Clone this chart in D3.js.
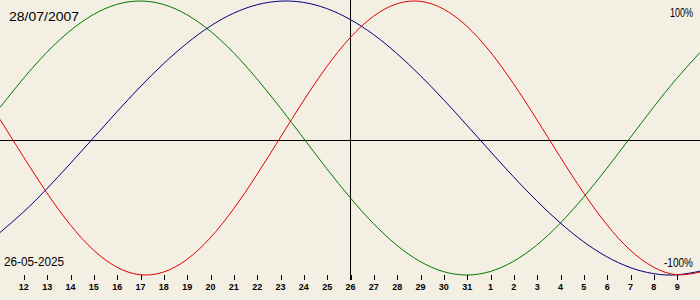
<!DOCTYPE html>
<html><head><meta charset="utf-8">
<script src="https://cdn.jsdelivr.net/npm/d3@7"></script>
<style>html,body{margin:0;padding:0;background:#f3efe3;}svg{display:block;}</style>
</head><body>
<div id="chart"></div>
<script>
// day offsets relative to 26-05-2025 (centre line)
const dayOffsets = d3.range(-15, 16);
// tick labels for offsets -14..14
const tickLabels = ["12","13","14","15","16","17","18","19","20","21","22","23","24","25","26","27","28","29","30","31","1","2","3","4","5","6","7","8","9"];
const tickOffsets = d3.range(-14, 15);
// series values in % (read per day from offset -15 to +15)
const physical = [13.6,-13.6,-39.8,-63.1,-81.7,-94.2,-99.8,-97.9,-88.8,-73.1,-52.0,-27.0,0,27.0,52.0,73.1,88.8,97.9,99.8,94.2,81.7,63.1,39.8,13.6,-13.6,-39.8,-63.1,-81.7,-94.2,-99.8,-97.9];
const emotional = [22.3,43.4,62.4,78.2,90.1,97.5,100,97.5,90.1,78.2,62.4,43.4,22.3,0,-22.3,-43.4,-62.4,-78.2,-90.1,-97.5,-100,-97.5,-90.1,-78.2,-62.4,-43.4,-22.3,0,22.3,43.4,62.4];
const intellectual = [-69.0,-54.1,-37.2,-18.9,0,18.9,37.2,54.1,69.0,81.5,91.0,97.2,99.9,99.0,94.5,86.6,75.6,61.8,45.8,28.2,9.5,-9.5,-28.2,-45.8,-61.8,-75.6,-86.6,-94.5,-99.0,-99.9,-97.2];
const birthLabel = "28/07/2007";
const todayLabel = "26-05-2025";
const topLabel = "100%";
const bottomLabel = "-100%";

const W = 700, H = 300;
const svg = d3.select("#chart").append("svg").attr("width", W).attr("height", H);
svg.append("rect").attr("width", W).attr("height", H).attr("fill", "#f3efe3");

const x = d3.scaleLinear().domain([-15, 15]).range([0, 700]);
const y = d3.scaleLinear().domain([-100, 100]).range([275, 1]);

// axes lines
svg.append("line").attr("x1", 0).attr("x2", W).attr("y1", 140.5).attr("y2", 140.5)
  .attr("stroke", "#000").attr("shape-rendering", "crispEdges");
svg.append("line").attr("x1", x(0) + 0.5).attr("x2", x(0) + 0.5).attr("y1", 0).attr("y2", 280)
  .attr("stroke", "#000").attr("shape-rendering", "crispEdges");

// curves
const line = d3.line().x((d, i) => x(dayOffsets[i])).y(d => y(d)).curve(d3.curveNatural);
[[emotional, "#007a00"], [intellectual, "#000080"], [physical, "#e00000"]].forEach(([vals, col]) => {
  svg.append("path").datum(vals).attr("d", line).attr("fill", "none").attr("stroke", col).attr("stroke-width", 1);
});

// bottom day axis
const axis = d3.axisBottom(x).tickValues(tickOffsets)
  .tickFormat((d, i) => tickLabels[i]).tickSize(5).tickPadding(4);
const g = svg.append("g").attr("transform", "translate(0.5,275)").call(axis);
g.select(".domain").remove();
g.selectAll(".tick line").attr("stroke", "#000").attr("shape-rendering", "crispEdges");
g.selectAll(".tick text").attr("font-family", "Liberation Sans, Arial, sans-serif")
  .attr("font-size", 9).attr("font-weight", "bold").attr("fill", "#000").attr("dx", -0.5);

// labels
const lbl = (t, xx, yy, anchor, len) => svg.append("text").text(t).attr("x", xx).attr("y", yy)
  .attr("text-anchor", anchor).attr("font-family", "Liberation Sans, Arial, sans-serif").attr("font-size", 12)
  .attr("fill", "#000").attr("textLength", len).attr("lengthAdjust", "spacingAndGlyphs");
lbl(birthLabel, 9, 21, "start", 70);
lbl(todayLabel, 4, 266, "start", 60);
lbl(topLabel, 693, 17, "end", 23);
lbl(bottomLabel, 693, 267, "end", 29);
</script>
</body></html>
